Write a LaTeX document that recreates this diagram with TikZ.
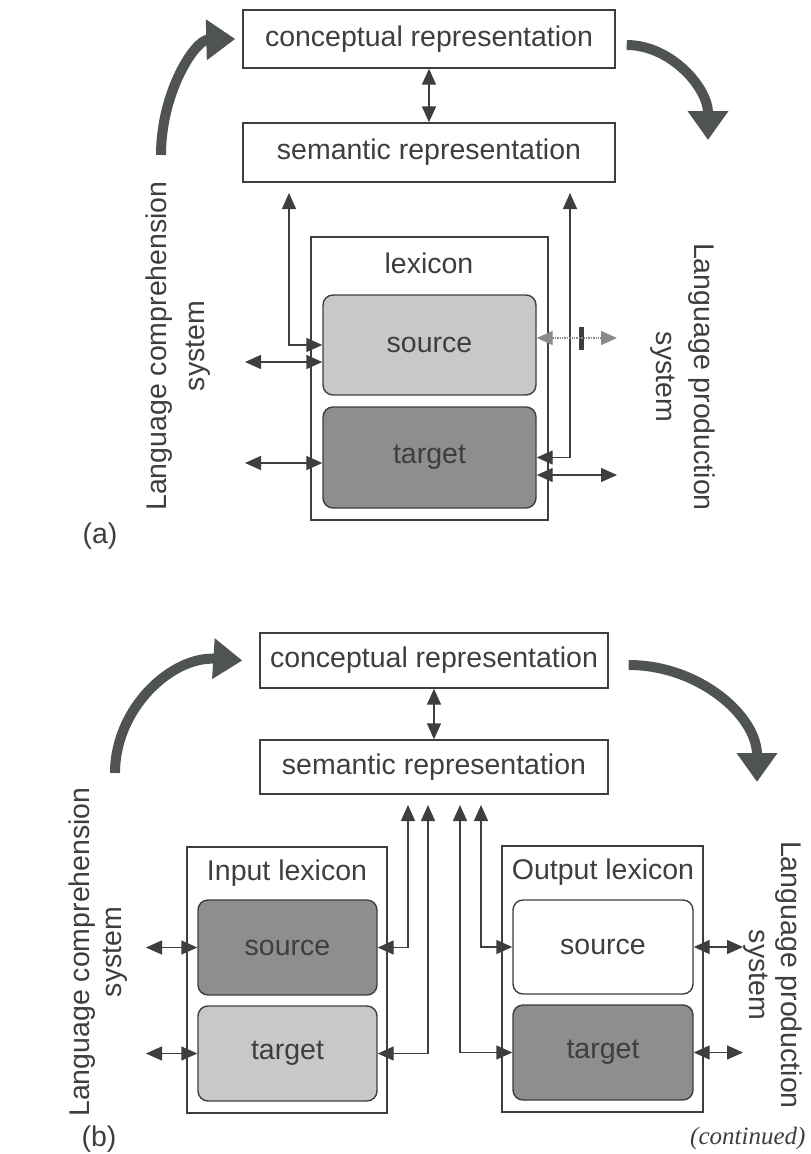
\documentclass[tikz,border=0pt]{standalone}
\usepackage{fontspec}
\setmainfont{Liberation Sans}
\newfontfamily\contfont{Liberation Serif}
\usepackage{xcolor}
\usepackage{tikz}
\usetikzlibrary{arrows.meta}

\definecolor{ink}{HTML}{3E3E3E}
\definecolor{flowgray}{HTML}{505450}
\definecolor{lightfill}{HTML}{C8C8C8}
\definecolor{darkfill}{HTML}{8E8E8E}
\definecolor{faint}{HTML}{8A8A8A}

\tikzset{
	box/.style={draw=ink, line width=1.4pt, text=ink, inner sep=0pt},
	lexframe/.style={draw=ink, line width=1.4pt, inner sep=0pt},
	entry/.style={draw=ink, line width=1.4pt, rounded corners=10pt, text=ink, inner sep=0pt},
	link/.style={draw=ink, line width=1.4pt, {Triangle[length=16pt,width=14pt]}-{Triangle[length=16pt,width=14pt]}},
	flow/.style={draw=flowgray, line width=10pt, -{Triangle[length=29pt,width=39pt]}},
	sidetext/.style={text=ink, align=center},
}

\begin{document}
\begin{tikzpicture}[x=1pt, y=-1pt, font=\fontsize{28.5}{35}\selectfont]
		  \useasboundingbox (0,0) rectangle (811,1154);

		  % (a)
		  \node[box, minimum width=372pt, minimum height=58pt] (conA) at (429,39) {conceptual representation} ; %
		  \node[box, minimum width=372pt, minimum height=59pt] (semA) at (429,152.5) {semantic representation} ; %
		  \node[lexframe, minimum width=237pt, minimum height=283pt] (lexA) at (429.5,378.5) {} ; %
		  \node[text=ink] (lexAlab) at (429,263) {lexicon} ; %
		  \node[entry, fill=lightfill, minimum width=213pt, minimum height=100pt] (srcA) at (429.5,345) {source} ; %
		  \node[entry, fill=darkfill, minimum width=213pt, minimum height=101pt] (tgtA) at (429.5,457.5) {target} ; %
		  \node[fill=ink, minimum width=5pt, minimum height=23pt, inner sep=0pt] (blockA) at (581,338) {} ; %

		  \node[sidetext, rotate=90, font=\fontsize{28.5}{38}\selectfont] (compA) at (178.5,346) {Language comprehension\\system} ; %
		  \node[sidetext, rotate=-90, font=\fontsize{28.5}{38}\selectfont] (prodA) at (682.5,377) {Language production\\system} ; %
		  \node[text=ink] (labA) at (100,536) {(a)} ; %

		  \coordinate (upAl) at (289,193) ; %
		  \coordinate (upAr) at (570,193) ; %
		  \coordinate (inAs) at (245,362) ; %
		  \coordinate (inAt) at (245,463) ; %
		  \coordinate (outAs) at (617,338) ; %
		  \coordinate (outAt) at (617,475) ; %
		  \coordinate (cmpAend) at (161,155) ; %
		  \coordinate (prdAend) at (708,140) ; %

		  \draw[link] (conA) -- (semA) ;
		  \draw[link] (upAl) |- (srcA.west) ;
		  \draw[link] (upAr) |- (tgtA.east) ;
		  \draw[link] (inAs) -- (inAs -| srcA.west) ;
		  \draw[link] (inAt) -- (inAt -| tgtA.west) ;
		  \draw[link] (outAt -| tgtA.east) -- (outAt) ;
		  \draw[link, draw=faint, densely dotted] (outAs -| srcA.east) -- (outAs) ;
		  \draw[flow] (cmpAend) .. controls (161,92) and (195,40) .. ([xshift=-7pt]conA.west) ;
		  \draw[flow] ([xshift=11pt]conA.east |- 0,45) .. controls (671,45) and (708,88) .. (prdAend) ;

		  % (b)
		  \node[box, minimum width=348pt, minimum height=55pt] (conB) at (434,660.5) {conceptual representation} ; %
		  \node[box, minimum width=348pt, minimum height=54pt] (semB) at (434,767) {semantic representation} ; %
		  \node[lexframe, minimum width=200pt, minimum height=266pt] (inlex) at (287,980) {} ; %
		  \node[text=ink] (inlexlab) at (287,873) {Input lexicon} ; %
		  \node[entry, fill=darkfill, minimum width=179pt, minimum height=95pt] (srcI) at (287.5,947.5) {source} ; %
		  \node[entry, fill=lightfill, minimum width=179pt, minimum height=95pt] (tgtI) at (287.5,1053.5) {target} ; %
		  \node[lexframe, minimum width=201pt, minimum height=266pt] (outlex) at (602.5,979) {} ; %
		  \node[text=ink] (outlexlab) at (603,872) {Output lexicon} ; %
		  \node[entry, fill=white, minimum width=180pt, minimum height=94pt] (srcO) at (603,947) {source} ; %
		  \node[entry, fill=darkfill, minimum width=180pt, minimum height=95pt] (tgtO) at (603,1052.5) {target} ; %

		  \node[sidetext, rotate=90, font=\fontsize{28.5}{32}\selectfont] (compB) at (98,952) {Language comprehension\\system} ; %
		  \node[sidetext, rotate=-90, font=\fontsize{28.5}{32}\selectfont] (prodB) at (772.5,975) {Language production\\system} ; %
		  \node[text=ink] (labB) at (99,1139) {(b)} ; %
		  \node[text=ink, anchor=east, font=\contfont\fontsize{25}{30}\selectfont\itshape] (contd) at (809,1138) {(continued)} ; %

		  \coordinate (upB1) at (408,805) ; %
		  \coordinate (upB2) at (428,805) ; %
		  \coordinate (upB3) at (460,805) ; %
		  \coordinate (upB4) at (481,805) ; %
		  \coordinate (inBs) at (146,947.5) ; %
		  \coordinate (inBt) at (146,1053.5) ; %
		  \coordinate (outBs) at (743,947) ; %
		  \coordinate (outBt) at (743,1052.5) ; %
		  \coordinate (cmpBend) at (115,773) ; %
		  \coordinate (prdBend) at (757,782) ; %

		  \draw[link] (conB) -- (semB) ;
		  \draw[link] (upB1) |- (srcI.east) ;
		  \draw[link] (upB2) |- (tgtI.east) ;
		  \draw[link] (upB3) |- (tgtO.west) ;
		  \draw[link] (upB4) |- (srcO.west) ;
		  \draw[link] (inBs) -- (srcI.west) ;
		  \draw[link] (inBt) -- (tgtI.west) ;
		  \draw[link] (srcO.east) -- (outBs) ;
		  \draw[link] (tgtO.east) -- (outBt) ;
		  \draw[flow] (cmpBend) .. controls (115,708) and (172,656) .. ([xshift=-17pt]conB.west) ;
		  \draw[flow] ([xshift=20pt]conB.east |- 0,665) .. controls (699,665) and (757,716) .. (prdBend) ;
\end{tikzpicture}
\end{document}
